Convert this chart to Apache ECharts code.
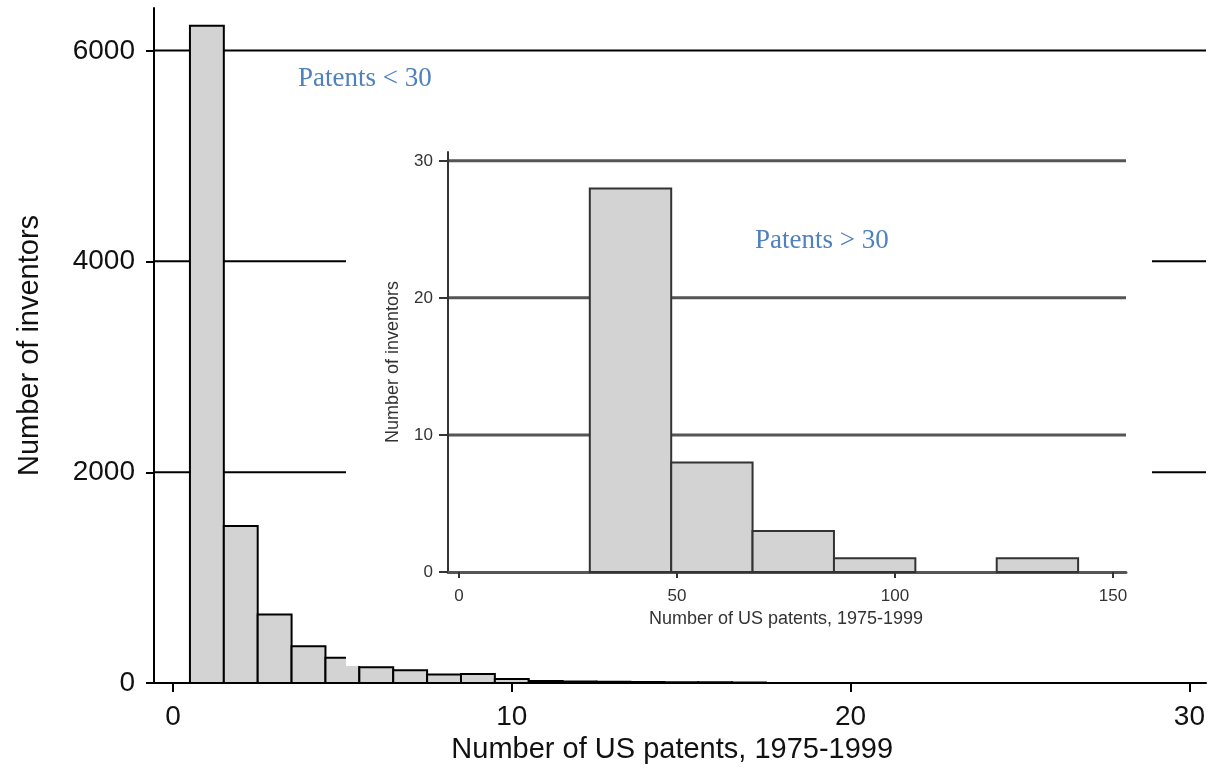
<!DOCTYPE html>
<html>
<head>
<meta charset="utf-8">
<script src="https://cdn.jsdelivr.net/npm/echarts@6/dist/echarts.min.js"></script>
<style>
  html, body { margin: 0; padding: 0; background: #fff; }
  #chart { width: 1208px; height: 776px; }
</style>
</head>
<body>
<div id="chart"></div>
<script>
// main histogram: patents < 30 (unit-wide bins centred on each count)
const mainPatents = [1, 2, 3, 4, 5, 6, 7, 8, 9, 10, 11, 12, 13, 14, 15, 16, 17]
const mainInventors = [6240, 1490, 650, 350, 240, 150, 120, 80, 85, 38, 18, 15, 12, 10, 8, 6, 5]
const mainXTicks = [0, 10, 20, 30]
const mainYTicks = [0, 2000, 4000, 6000]

// inset histogram: patents > 30
const insetEdges = [30, 48.67, 67.33, 86, 104.67, 123.33, 142]
const insetInventors = [28, 8, 3, 1, 0, 1]
const insetXTicks = [0, 50, 100, 150]
const insetYTicks = [0, 10, 20, 30]

const mainBins = mainPatents.map((p, i) => [p - 0.5, p + 0.5, mainInventors[i]])
const insetBins = insetInventors.map((c, i) => [insetEdges[i], insetEdges[i + 1], c])

const sans = '"Liberation Sans", Arial, sans-serif'
const plain = v => String(v)
const chart = echarts.init(document.getElementById('chart'))

function histItem(stroke) {
  return (params, api) => {
    const h = api.value(2)
    if (!(h > 0)) return null
    const p0 = api.coord([api.value(0), 0])
    const p1 = api.coord([api.value(1), h])
    return {
      type: 'rect',
      shape: { x: p0[0], y: p1[1], width: p1[0] - p0[0], height: p0[1] - p1[1] },
      style: { fill: '#d3d3d3', stroke: stroke, lineWidth: 2 }
    }
  }
}

function gridLineItem(stroke, width) {
  return (params, api) => {
    const y = api.coord([0, api.value(1)])[1]
    const cs = params.coordSys
    return {
      type: 'line',
      shape: { x1: cs.x, y1: y, x2: cs.x + cs.width, y2: y },
      style: { stroke: stroke, lineWidth: width }
    }
  }
}

const hidden = { show: false }
const frameAxis = (color, width) => ({
  axisLine: { show: true, onZero: false, lineStyle: { color: color, width: width } },
  axisTick: hidden, axisLabel: hidden, splitLine: hidden
})

chart.setOption({
  animation: false,
  grid: [
    { left: 173, right: 18, top: 51, bottom: 93 },   // main data + labels
    { left: 154, right: 2, top: 8, bottom: 93 },     // main frame
    { left: 459, right: 95, top: 161, bottom: 204 }, // inset data + labels
    { left: 448, right: 82, top: 152, bottom: 204 }  // inset frame
  ],
  xAxis: [
    {
      gridIndex: 0, type: 'value',
      min: mainXTicks[0], max: mainXTicks[mainXTicks.length - 1], interval: mainXTicks[1] - mainXTicks[0],
      axisLine: { show: false, onZero: false },
      axisTick: { show: true, length: 9, lineStyle: { color: '#000', width: 2 } },
      axisLabel: { margin: 20, fontSize: 28, fontFamily: sans, color: '#111', formatter: plain },
      splitLine: hidden,
      name: 'Number of US patents, 1975-1999', nameLocation: 'middle', nameGap: 46,
      nameTextStyle: { fontSize: 29, fontFamily: sans, color: '#111', padding: [0, 18, 0, 0] }
    },
    Object.assign({ gridIndex: 1, type: 'value', min: -0.57, max: 30.47 }, frameAxis('#000', 2)),
    {
      gridIndex: 2, type: 'value', z: 4,
      min: insetXTicks[0], max: insetXTicks[insetXTicks.length - 1], interval: insetXTicks[1] - insetXTicks[0],
      axisLine: { show: false, onZero: false },
      axisTick: { show: true, length: 6, lineStyle: { color: '#333', width: 2 } },
      axisLabel: { margin: 16, fontSize: 17, fontFamily: sans, color: '#333', formatter: plain },
      splitLine: hidden,
      name: 'Number of US patents, 1975-1999', nameLocation: 'middle', nameGap: 35,
      nameTextStyle: { fontSize: 18, fontFamily: sans, color: '#333' }
    },
    Object.assign({ gridIndex: 3, type: 'value', z: 4, min: -2.6, max: 152.9 }, frameAxis('#555', 3))
  ],
  yAxis: [
    {
      gridIndex: 0, type: 'value', offset: 19,
      min: mainYTicks[0], max: mainYTicks[mainYTicks.length - 1], interval: mainYTicks[1] - mainYTicks[0],
      axisLine: { show: false, onZero: false },
      axisTick: { show: true, length: 8, lineStyle: { color: '#000', width: 2 } },
      axisLabel: { margin: 19, fontSize: 28, fontFamily: sans, color: '#111', formatter: plain },
      splitLine: hidden
    },
    Object.assign({
      gridIndex: 1, type: 'value', min: 0, max: 6402,
      name: 'Number of inventors', nameLocation: 'middle', nameGap: 110,
      nameTextStyle: { fontSize: 29, fontFamily: sans, color: '#111' }
    }, frameAxis('#000', 2)),
    {
      gridIndex: 2, type: 'value', z: 4, offset: 11,
      min: insetYTicks[0], max: insetYTicks[insetYTicks.length - 1], interval: insetYTicks[1] - insetYTicks[0],
      axisLine: { show: false, onZero: false },
      axisTick: { show: true, length: 9, lineStyle: { color: '#333', width: 2 } },
      axisLabel: { margin: 15, fontSize: 17, fontFamily: sans, color: '#333', formatter: plain },
      splitLine: hidden
    },
    Object.assign({
      gridIndex: 3, type: 'value', z: 4, min: 0, max: 30.63,
      name: 'Number of inventors', nameLocation: 'middle', nameGap: 46,
      nameTextStyle: { fontSize: 18, fontFamily: sans, color: '#333' }
    }, frameAxis('#333', 2))
  ],
  graphic: {
    elements: [
      // white panel the inset sits on
      { type: 'rect', z: 3, silent: true, shape: { x: 346, y: 100, width: 806, height: 566 }, style: { fill: '#fff' } },
      {
        type: 'text', z: 10, silent: true,
        style: { text: 'Patents < 30', x: 298, y: 79, fill: '#4f81bd', font: '27px "Liberation Serif", "Times New Roman", serif', textVerticalAlign: 'middle' }
      },
      {
        type: 'text', z: 10, silent: true,
        style: { text: 'Patents > 30', x: 755, y: 241, fill: '#4f81bd', font: '27px "Liberation Serif", "Times New Roman", serif', textVerticalAlign: 'middle' }
      }
    ]
  },
  series: [
    {
      type: 'custom', xAxisIndex: 1, yAxisIndex: 1, z: 1, silent: true,
      renderItem: gridLineItem('#000', 2),
      data: mainYTicks.slice(1).map(v => [0, v])
    },
    {
      type: 'custom', xAxisIndex: 0, yAxisIndex: 0, z: 2, clip: false,
      renderItem: histItem('#000'),
      encode: { x: [0, 1], y: 2 },
      data: mainBins
    },
    {
      type: 'custom', xAxisIndex: 3, yAxisIndex: 3, z: 4, silent: true,
      renderItem: gridLineItem('#555', 3),
      data: insetYTicks.slice(1).map(v => [0, v])
    },
    {
      type: 'custom', xAxisIndex: 2, yAxisIndex: 2, z: 5, clip: false,
      renderItem: histItem('#333'),
      encode: { x: [0, 1], y: 2 },
      data: insetBins
    }
  ]
})

window.addEventListener('resize', () => chart.resize())
</script>
</body>
</html>
